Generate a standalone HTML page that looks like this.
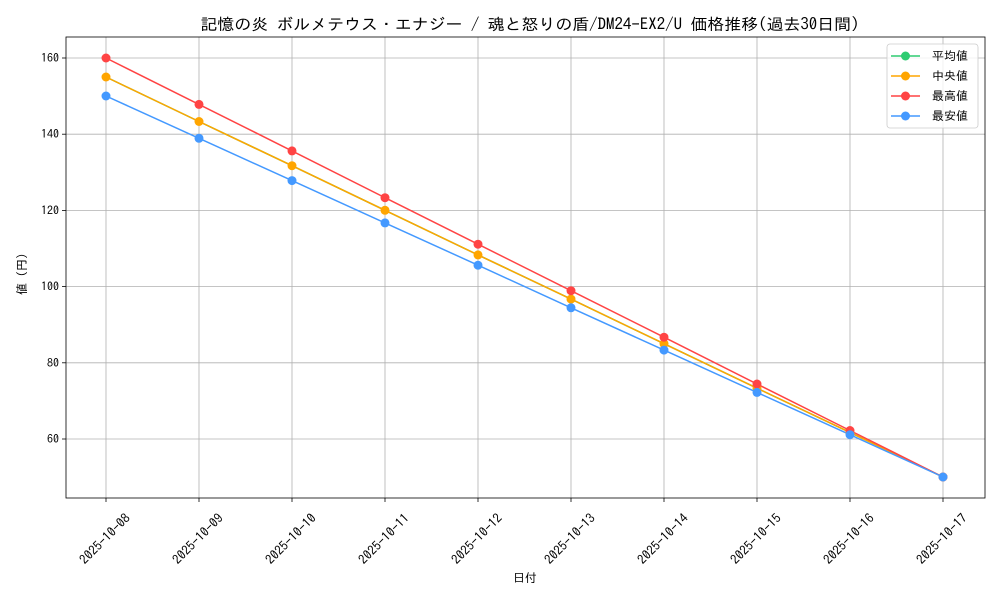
<!DOCTYPE html>
<html><head><meta charset="utf-8"><style>
body{margin:0;background:#fff}
svg{display:block;font-family:"IPAGothic","Liberation Sans","Noto Sans CJK JP",sans-serif}
</style></head><body>
<svg width="1000" height="600" viewBox="0 0 1000 600">
<rect width="1000" height="600" fill="#fff"/>
<g stroke="#b0b0b0" stroke-width="0.8">
<line x1="106" y1="37" x2="106" y2="498"/><line x1="199" y1="37" x2="199" y2="498"/><line x1="292" y1="37" x2="292" y2="498"/><line x1="385" y1="37" x2="385" y2="498"/><line x1="478" y1="37" x2="478" y2="498"/><line x1="571" y1="37" x2="571" y2="498"/><line x1="664" y1="37" x2="664" y2="498"/><line x1="757" y1="37" x2="757" y2="498"/><line x1="850" y1="37" x2="850" y2="498"/><line x1="943" y1="37" x2="943" y2="498"/>
<line x1="66" y1="58" x2="985" y2="58"/><line x1="66" y1="134.2" x2="985" y2="134.2"/><line x1="66" y1="210.4" x2="985" y2="210.4"/><line x1="66" y1="286.6" x2="985" y2="286.6"/><line x1="66" y1="362.8" x2="985" y2="362.8"/><line x1="66" y1="439" x2="985" y2="439"/>
</g>
<rect x="66" y="37" width="919" height="461" fill="none" stroke="#000" stroke-width="0.8"/>
<g stroke="#000" stroke-width="0.8">
<line x1="62" y1="58" x2="66" y2="58"/><line x1="62" y1="134.2" x2="66" y2="134.2"/><line x1="62" y1="210.4" x2="66" y2="210.4"/><line x1="62" y1="286.6" x2="66" y2="286.6"/><line x1="62" y1="362.8" x2="66" y2="362.8"/><line x1="62" y1="439" x2="66" y2="439"/>
<line x1="106" y1="498" x2="106" y2="502"/><line x1="199" y1="498" x2="199" y2="502"/><line x1="292" y1="498" x2="292" y2="502"/><line x1="385" y1="498" x2="385" y2="502"/><line x1="478" y1="498" x2="478" y2="502"/><line x1="571" y1="498" x2="571" y2="502"/><line x1="664" y1="498" x2="664" y2="502"/><line x1="757" y1="498" x2="757" y2="502"/><line x1="850" y1="498" x2="850" y2="502"/><line x1="943" y1="498" x2="943" y2="502"/>
</g>
<g font-size="12" text-anchor="end" fill="#000">
<text x="59" y="62">160</text><text x="59" y="138.2">140</text><text x="59" y="214.4">120</text><text x="59" y="290.6">100</text><text x="59" y="366.8">80</text><text x="59" y="443">60</text>
</g>
<g font-size="13" text-anchor="middle" fill="#000">
<text transform="translate(108,542) rotate(-45)">2025-10-08</text>
<text transform="translate(201,542) rotate(-45)">2025-10-09</text>
<text transform="translate(294,542) rotate(-45)">2025-10-10</text>
<text transform="translate(387,542) rotate(-45)">2025-10-11</text>
<text transform="translate(480,542) rotate(-45)">2025-10-12</text>
<text transform="translate(573,542) rotate(-45)">2025-10-13</text>
<text transform="translate(666,542) rotate(-45)">2025-10-14</text>
<text transform="translate(759,542) rotate(-45)">2025-10-15</text>
<text transform="translate(852,542) rotate(-45)">2025-10-16</text>
<text transform="translate(945,542) rotate(-45)">2025-10-17</text>
</g>
<text x="525" y="582" font-size="12" text-anchor="middle">日付</text>
<text transform="translate(26,274) rotate(-90)" font-size="12" text-anchor="middle">値 (円)</text>
<text x="530" y="30" font-size="16" text-anchor="middle" textLength="659" lengthAdjust="spacingAndGlyphs">記憶の炎 ボルメテウス・エナジー / 魂と怒りの盾/DM24-EX2/U 価格推移(過去30日間)</text>
<g fill="none" stroke-width="1.5">
<polyline stroke="#2ecc71" points="106,77 199,121.5 292,165.7 385,210.3 478,254.9 571,299.1 664,343.7 757,388.2 850,432.4 943,477"/>
<polyline stroke="#ffa500" points="106,77 199,121.5 292,165.7 385,210.3 478,254.9 571,299.1 664,343.7 757,388.2 850,432.4 943,477"/>
<polyline stroke="#ff4444" points="106,58 199,104.4 292,150.9 385,197.7 478,244.2 571,290.7 664,337.2 757,384 850,430.5 943,477"/>
<polyline stroke="#4499ff" points="106,96 199,138.3 292,180.6 385,222.9 478,265.2 571,307.8 664,350.1 757,392.4 850,434.7 943,477"/>
</g>
<g fill="#ffa500">
<circle cx="106" cy="77" r="4.5"/><circle cx="199" cy="121.5" r="4.5"/><circle cx="292" cy="165.7" r="4.5"/><circle cx="385" cy="210.3" r="4.5"/><circle cx="478" cy="254.9" r="4.5"/><circle cx="571" cy="299.1" r="4.5"/><circle cx="664" cy="343.7" r="4.5"/><circle cx="757" cy="388.2" r="4.5"/><circle cx="850" cy="432.4" r="4.5"/><circle cx="943" cy="477" r="4.5"/>
</g>
<g fill="#ff4444">
<circle cx="106" cy="58" r="4.5"/><circle cx="199" cy="104.4" r="4.5"/><circle cx="292" cy="150.9" r="4.5"/><circle cx="385" cy="197.7" r="4.5"/><circle cx="478" cy="244.2" r="4.5"/><circle cx="571" cy="290.7" r="4.5"/><circle cx="664" cy="337.2" r="4.5"/><circle cx="757" cy="384" r="4.5"/><circle cx="850" cy="430.5" r="4.5"/><circle cx="943" cy="477" r="4.5"/>
</g>
<g fill="#4499ff">
<circle cx="106" cy="96" r="4.5"/><circle cx="199" cy="138.3" r="4.5"/><circle cx="292" cy="180.6" r="4.5"/><circle cx="385" cy="222.9" r="4.5"/><circle cx="478" cy="265.2" r="4.5"/><circle cx="571" cy="307.8" r="4.5"/><circle cx="664" cy="350.1" r="4.5"/><circle cx="757" cy="392.4" r="4.5"/><circle cx="850" cy="434.7" r="4.5"/><circle cx="943" cy="477" r="4.5"/>
</g>
<rect x="887" y="44" width="91" height="84" rx="3" fill="#fff" fill-opacity="0.8" stroke="#ccc" stroke-width="0.8"/>
<g stroke-width="1.5">
<line x1="891" y1="56" x2="920" y2="56" stroke="#2ecc71"/><circle cx="905.5" cy="56" r="4.5" fill="#2ecc71"/>
<line x1="891" y1="76" x2="920" y2="76" stroke="#ffa500"/><circle cx="905.5" cy="76" r="4.5" fill="#ffa500"/>
<line x1="891" y1="96" x2="920" y2="96" stroke="#ff4444"/><circle cx="905.5" cy="96" r="4.5" fill="#ff4444"/>
<line x1="891" y1="116" x2="920" y2="116" stroke="#4499ff"/><circle cx="905.5" cy="116" r="4.5" fill="#4499ff"/>
</g>
<g font-size="12">
<text x="932" y="60">平均値</text><text x="932" y="80">中央値</text><text x="932" y="100">最高値</text><text x="932" y="120">最安値</text>
</g>
</svg>
</body></html>
